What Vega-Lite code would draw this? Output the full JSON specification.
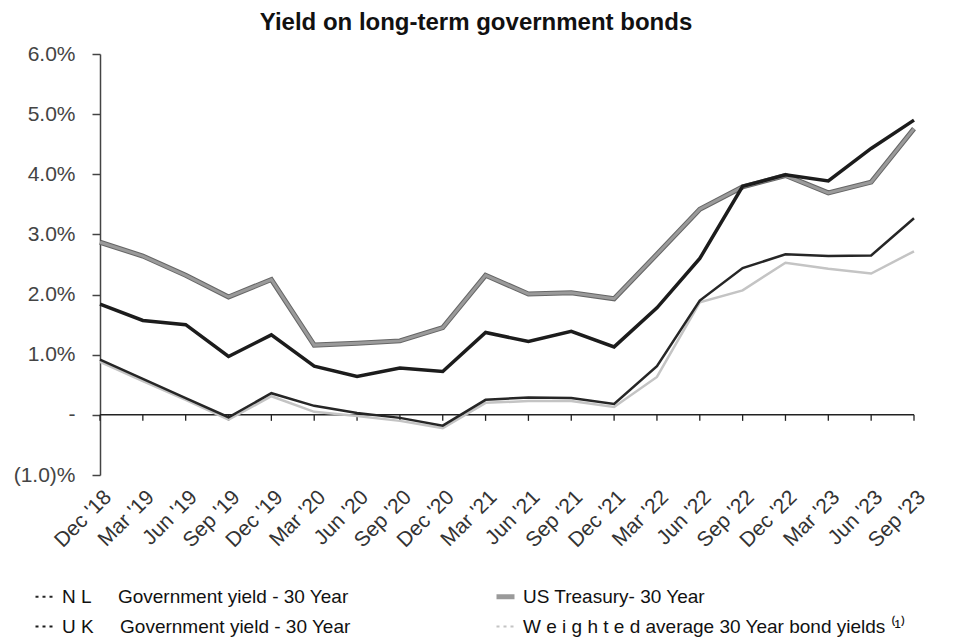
{
  "$schema": "https://vega.github.io/schema/vega-lite/v6.json",
  "width": 814,
  "height": 421,
  "autosize": {"type": "none"},
  "padding": {"left": 100, "top": 54, "right": 45, "bottom": 164},
  "background": "white",
  "title": {
    "text": "Yield on long-term government bonds",
    "fontSize": 24,
    "font": "Liberation Sans",
    "fontWeight": "bold",
    "color": "#111111",
    "anchor": "middle",
    "dx": -31,
    "offset": 8
  },
  "config": {
    "view": {"stroke": null},
    "font": "Liberation Sans",
    "axisX": {
      "domain": false,
      "ticks": false,
      "grid": false,
      "labelAngle": -45,
      "labelFontSize": 21,
      "labelColor": "#333333",
      "labelPadding": 11,
      "labelDx": -8,
      "labelFont": "Liberation Sans"
    },
    "axisY": {
      "domain": true,
      "domainColor": "#444444",
      "domainWidth": 1.5,
      "ticks": true,
      "tickColor": "#444444",
      "tickSize": 8,
      "tickWidth": 1.5,
      "grid": false,
      "labelFontSize": 21,
      "labelColor": "#444444",
      "labelPadding": 17,
      "labelFont": "Liberation Sans"
    }
  },
  "datasets": {
    "quarters": [
      {"q": "Dec '18"}, {"q": "Mar '19"}, {"q": "Jun '19"}, {"q": "Sep '19"},
      {"q": "Dec '19"}, {"q": "Mar '20"}, {"q": "Jun '20"}, {"q": "Sep '20"},
      {"q": "Dec '20"}, {"q": "Mar '21"}, {"q": "Jun '21"}, {"q": "Sep '21"},
      {"q": "Dec '21"}, {"q": "Mar '22"}, {"q": "Jun '22"}, {"q": "Sep '22"},
      {"q": "Dec '22"}, {"q": "Mar '23"}, {"q": "Jun '23"}, {"q": "Sep '23"}
    ],
    "yields": [
      {"q": "Dec '18", "NL": 0.92, "UK": 1.84, "US": 2.87, "W": 0.88},
      {"q": "Mar '19", "NL": 0.60, "UK": 1.57, "US": 2.64, "W": 0.56},
      {"q": "Jun '19", "NL": 0.28, "UK": 1.50, "US": 2.32, "W": 0.25},
      {"q": "Sep '19", "NL": -0.04, "UK": 0.97, "US": 1.96, "W": -0.08},
      {"q": "Dec '19", "NL": 0.36, "UK": 1.33, "US": 2.25, "W": 0.31},
      {"q": "Mar '20", "NL": 0.15, "UK": 0.81, "US": 1.16, "W": 0.05},
      {"q": "Jun '20", "NL": 0.03, "UK": 0.64, "US": 1.19, "W": -0.02},
      {"q": "Sep '20", "NL": -0.05, "UK": 0.78, "US": 1.23, "W": -0.10},
      {"q": "Dec '20", "NL": -0.18, "UK": 0.72, "US": 1.45, "W": -0.22},
      {"q": "Mar '21", "NL": 0.25, "UK": 1.37, "US": 2.32, "W": 0.20},
      {"q": "Jun '21", "NL": 0.29, "UK": 1.22, "US": 2.01, "W": 0.23},
      {"q": "Sep '21", "NL": 0.28, "UK": 1.39, "US": 2.03, "W": 0.23},
      {"q": "Dec '21", "NL": 0.18, "UK": 1.13, "US": 1.93, "W": 0.13},
      {"q": "Mar '22", "NL": 0.81, "UK": 1.78, "US": 2.67, "W": 0.63},
      {"q": "Jun '22", "NL": 1.90, "UK": 2.60, "US": 3.42, "W": 1.87},
      {"q": "Sep '22", "NL": 2.44, "UK": 3.80, "US": 3.79, "W": 2.07},
      {"q": "Dec '22", "NL": 2.67, "UK": 3.99, "US": 3.98, "W": 2.53},
      {"q": "Mar '23", "NL": 2.64, "UK": 3.89, "US": 3.69, "W": 2.43},
      {"q": "Jun '23", "NL": 2.65, "UK": 4.43, "US": 3.87, "W": 2.35},
      {"q": "Sep '23", "NL": 3.27, "UK": 4.90, "US": 4.76, "W": 2.72}
    ]
  },
  "layer": [
    {
      "data": {"values": [{}]},
      "mark": {"type": "rule", "color": "#222222", "strokeWidth": 1.5},
      "encoding": {"y": {"datum": 0, "type": "quantitative", "title": null}}
    },
    {
      "data": {"name": "quarters"},
      "mark": {"type": "rule", "color": "#222222", "strokeWidth": 1.3},
      "encoding": {
        "x": {"field": "q", "type": "ordinal", "title": null, "scale": {"type": "point", "padding": 0, "domain": ["Dec '18","Mar '19","Jun '19","Sep '19","Dec '19","Mar '20","Jun '20","Sep '20","Dec '20","Mar '21","Jun '21","Sep '21","Dec '21","Mar '22","Jun '22","Sep '22","Dec '22","Mar '23","Jun '23","Sep '23"]}},
        "y": {"datum": 0, "type": "quantitative", "title": null, "scale": {"domain": [-1, 6], "nice": false}, "axis": {"values": [-1, 0, 1, 2, 3, 4, 5, 6], "labelExpr": "datum.value == 0 ? '-' : (datum.value < 0 ? '(' + format(-datum.value, '.1f') + ')%' : format(datum.value, '.1f') + '%')"}},
        "y2": {"datum": -0.1}
      }
    },
    {
      "data": {"name": "yields"},
      "transform": [{"fold": ["NL", "UK", "US", "W"], "as": ["key", "v"]}, {"filter": "datum.key == 'W'"}],
      "mark": {"type": "line", "strokeWidth": 2.5},
      "encoding": {
        "x": {"field": "q", "type": "ordinal", "title": null},
        "y": {"field": "v", "type": "quantitative", "title": null},
        "color": {
          "field": "key", "type": "nominal",
          "scale": {"domain": ["NL", "UK", "US", "W"], "range": ["#262626", "#1c1c1c", "#9a9a9a", "#c4c4c4"]},
          "legend": {
            "orient": "none", "legendX": -65, "legendY": 533, "columns": 2, "title": null,
            "symbolType": "stroke", "symbolSize": 324, "symbolStrokeWidth": 2,
            "labelFontSize": 19, "labelFont": "Liberation Sans", "labelColor": "#111111", "labelLimit": 600, "labelOffset": 8,
            "columnPadding": 135, "rowPadding": 10,
            "labelExpr": "datum.value == 'NL' ? 'N L\u00a0\u00a0\u00a0\u00a0 Government yield - 30 Year' : datum.value == 'UK' ? 'U K\u00a0\u00a0\u00a0\u00a0 Government yield - 30 Year' : datum.value == 'US' ? 'US Treasury- 30 Year' : 'W e i g h t e d average 30 Year bond yields \u207d\u00b9\u207e'",
            "encode": {"symbols": {"update": {"strokeDash": {"signal": "datum.value == 'US' ? [1, 0] : [3, 4]"}, "strokeWidth": {"signal": "datum.value == 'US' ? 5 : 2"}}}}
          }
        }
      }
    },
    {
      "data": {"name": "yields"},
      "transform": [{"fold": ["NL", "UK", "US", "W"], "as": ["key", "v"]}, {"filter": "datum.key == 'US'"}],
      "mark": {"type": "line", "strokeWidth": 5, "color": "#666666"},
      "encoding": {
        "x": {"field": "q", "type": "ordinal", "title": null},
        "y": {"field": "v", "type": "quantitative", "title": null}
      }
    },
    {
      "data": {"name": "yields"},
      "transform": [{"fold": ["NL", "UK", "US", "W"], "as": ["key", "v"]}, {"filter": "datum.key == 'US'"}],
      "mark": {"type": "line", "strokeWidth": 3},
      "encoding": {
        "x": {"field": "q", "type": "ordinal", "title": null},
        "y": {"field": "v", "type": "quantitative", "title": null},
        "color": {"field": "key", "type": "nominal"}
      }
    },
    {
      "data": {"name": "yields"},
      "transform": [{"fold": ["NL", "UK", "US", "W"], "as": ["key", "v"]}, {"filter": "datum.key == 'NL'"}],
      "mark": {"type": "line", "strokeWidth": 2.5},
      "encoding": {
        "x": {"field": "q", "type": "ordinal", "title": null},
        "y": {"field": "v", "type": "quantitative", "title": null},
        "color": {"field": "key", "type": "nominal"}
      }
    },
    {
      "data": {"name": "yields"},
      "transform": [{"fold": ["NL", "UK", "US", "W"], "as": ["key", "v"]}, {"filter": "datum.key == 'UK'"}],
      "mark": {"type": "line", "strokeWidth": 3.5},
      "encoding": {
        "x": {"field": "q", "type": "ordinal", "title": null},
        "y": {"field": "v", "type": "quantitative", "title": null},
        "color": {"field": "key", "type": "nominal"}
      }
    }
  ]
}
